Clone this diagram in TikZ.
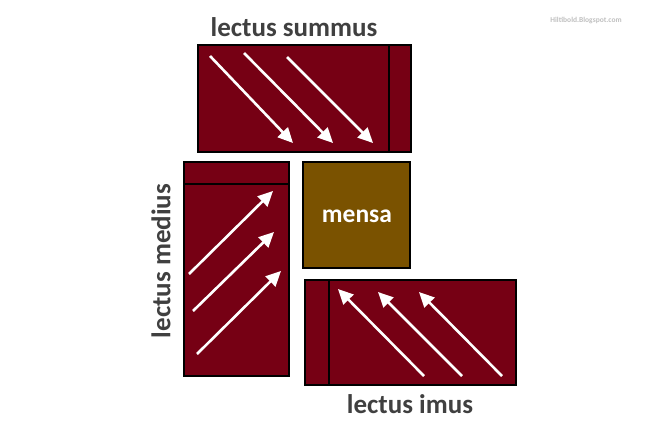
\documentclass[tikz,border=0pt]{standalone}
\usepackage{fontspec}
\setmainfont{Carlito}
\usetikzlibrary{arrows.meta}

\definecolor{couch}{RGB}{118,0,20}
\definecolor{table}{RGB}{122,82,0}
\definecolor{label}{RGB}{64,64,64}

\begin{document}
\begin{tikzpicture}[x=1pt,y=1pt,yscale=-1,xscale=1,
  couchbox/.style={draw=black,line width=1.6pt,fill=couch},
  divider/.style={draw=black,line width=1.6pt},
  flow/.style={draw=white,line width=2.6pt,-{Triangle[width=14pt,length=15pt]}},
  caption/.style={text=label,font=\fontsize{27}{29}\selectfont\bfseries,inner sep=0pt}]
\path[use as bounding box] (0,0) rectangle (660,423);

%Shape: Rectangle [lectus summus]
\draw [couchbox] (198,45) rectangle (411,152) ;
\draw [divider] (389,45) -- (389,152) ;
\draw [flow] (210,56) -- (293,143) ;
\draw [flow] (244,53) -- (333,143) ;
\draw [flow] (287,57) -- (373,143) ;

%Shape: Rectangle [lectus medius]
\draw [couchbox] (184,162) rectangle (289,376) ;
\draw [divider] (184,184) -- (289,184) ;
\draw [flow] (189,274) -- (273,191) ;
\draw [flow] (193,311) -- (274,232) ;
\draw [flow] (197,354) -- (281,271) ;

%Shape: Rectangle [mensa]
\draw [draw=black,line width=1.6pt,fill=table] (303,162) rectangle (410,268) ;

%Shape: Rectangle [lectus imus]
\draw [couchbox] (305,280) rectangle (516,385) ;
\draw [divider] (329,280) -- (329,385) ;
\draw [flow] (424,376) -- (338,289) ;
\draw [flow] (462,376) -- (378,292) ;
\draw [flow] (502,376) -- (419,292) ;

% Text Node
\node (summus) [caption] at (294,27) {lectus summus};
% Text Node
\node (medius) [caption,rotate=90] at (161,261) {lectus medius};
% Text Node
\node (imus) [caption] at (410,404) {lectus imus};
% Text Node
\node (mensa) [text=white,font=\fontsize{25.5}{27}\selectfont\bfseries] at (357,216) {mensa};
% Text Node
\node (blog) [text=black!25,font=\fontsize{7.5}{8}\selectfont\bfseries] at (586,20) {Hiltibold.Blogspot.com};

\end{tikzpicture}
\end{document}
